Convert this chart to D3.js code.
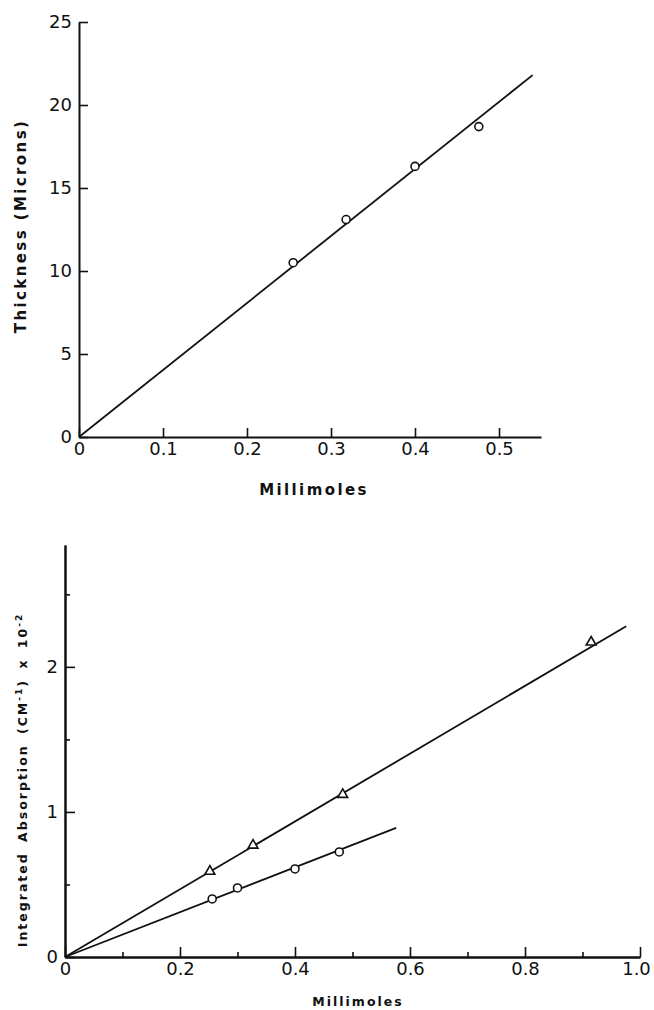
<!DOCTYPE html>
<html>
<head>
<meta charset="utf-8">
<script src="https://cdn.jsdelivr.net/npm/d3@7"></script>
<style>
    body { margin: 0; background: #fff; }
    svg { display: block; }
    .axis path, .axis line { stroke: #111; }
    .axis path { stroke-width: 2; }
    .axis line { stroke-width: 1.6; }
    .title { font-family: "DejaVu Sans", sans-serif; font-weight: bold; fill: #111; }
</style>
</head>
<body>
<div id="chart"></div>
<script>
// top panel: film thickness
const thickX = [0.255, 0.318, 0.40, 0.476]
const thickY = [10.5, 13.1, 16.3, 18.7]
const thickFitX = [0, 0.54]
const thickFitY = [0, 21.8]
const thickXTicks = [0, 0.1, 0.2, 0.3, 0.4, 0.5]
const thickYTicks = [0, 5, 10, 15, 20, 25]

// bottom panel: integrated absorption (two series)
const triX = [0.252, 0.327, 0.483, 0.915]
const triY = [0.59, 0.77, 1.12, 2.17]
const triFitX = [0, 0.976]
const triFitY = [0, 2.28]
const circX = [0.256, 0.30, 0.40, 0.477]
const circY = [0.40, 0.476, 0.607, 0.724]
const circFitX = [0, 0.576]
const circFitY = [0, 0.89]
const absXMajor = [0, 0.2, 0.4, 0.6, 0.8, 1.0]
const absXMinor = [0.1, 0.3, 0.5, 0.7, 0.9]
const absYMajor = [0, 1, 2]
const absYMinor = [0.5, 1.5, 2.5]

;(function () {
    const width = 654
    const height = 1010

    const svg = d3.select("#chart")
        .append("svg")
        .attr("width", width)
        .attr("height", height)

    const zip = (xs, ys) => xs.map((x, i) => ({ x: x, y: ys[i] }))
    const decFormat = d => d === 0 ? "0" : d3.format(".1f")(d)

    // bigger tick labels than d3's default 10px
    const styleLabels = g => g.selectAll("text")
        .style("font-family", "'DejaVu Sans', sans-serif")
        .style("font-size", "18px")
        .attr("fill", "#111")

    // ---------- top chart ----------
    const x1 = d3.scaleLinear().domain([0, 0.55]).range([79, 541])
    const y1 = d3.scaleLinear().domain([0, 25]).range([437, 22])

    const line1 = d3.line().x(d => x1(d.x)).y(d => y1(d.y))

    svg.append("g")
        .attr("class", "axis")
        .attr("transform", "translate(0," + y1(0) + ")")
        .call(d3.axisBottom(x1).tickValues(thickXTicks).tickSize(-9).tickSizeOuter(0).tickPadding(5)
            .tickFormat(decFormat))
        .call(styleLabels)

    svg.append("g")
        .attr("class", "axis")
        .attr("transform", "translate(" + x1(0) + ",0)")
        .call(d3.axisLeft(y1).tickValues(thickYTicks).tickSize(-9).tickSizeOuter(0).tickPadding(7))
        .call(styleLabels)

    svg.append("path")
        .datum(zip(thickFitX, thickFitY))
        .attr("fill", "none")
        .attr("stroke", "#111")
        .attr("stroke-width", 1.8)
        .attr("d", line1)

    svg.append("g")
        .selectAll("circle")
        .data(zip(thickX, thickY))
        .join("circle")
        .attr("cx", d => x1(d.x))
        .attr("cy", d => y1(d.y))
        .attr("r", 4)
        .attr("fill", "#fff")
        .attr("stroke", "#111")
        .attr("stroke-width", 1.6)

    svg.append("text")
        .attr("class", "title")
        .attr("x", 314)
        .attr("y", 495)
        .attr("text-anchor", "middle")
        .style("font-size", "15px")
        .style("letter-spacing", "2.4px")
        .text("Millimoles")

    svg.append("text")
        .attr("class", "title")
        .attr("transform", "translate(26,226) rotate(-90)")
        .attr("text-anchor", "middle")
        .style("font-size", "15px")
        .style("letter-spacing", "2.4px")
        .text("Thickness (Microns)")

    // ---------- bottom chart ----------
    const x2 = d3.scaleLinear().domain([0, 1]).range([65, 640])
    const y2 = d3.scaleLinear().domain([0, 2.84]).range([957, 545])

    const line2 = d3.line().x(d => x2(d.x)).y(d => y2(d.y))

    // minor ticks first, then the labelled ones
    svg.append("g")
        .attr("class", "axis")
        .attr("transform", "translate(0," + y2(0) + ")")
        .call(d3.axisBottom(x2).tickValues(absXMinor).tickSize(-5).tickSizeOuter(0).tickFormat(""))

    svg.append("g")
        .attr("class", "axis")
        .attr("transform", "translate(0," + y2(0) + ")")
        .call(d3.axisBottom(x2).tickValues(absXMajor).tickSize(-10).tickSizeOuter(0).tickPadding(5)
            .tickFormat(decFormat))
        .call(styleLabels)
        // last label sits at the page edge, nudge it in
        .call(g => g.selectAll(".tick").filter(d => d === 1).select("text").attr("dx", -4))

    svg.append("g")
        .attr("class", "axis")
        .attr("transform", "translate(" + x2(0) + ",0)")
        .call(d3.axisLeft(y2).tickValues(absYMinor).tickSize(-5).tickSizeOuter(0).tickFormat(""))

    svg.append("g")
        .attr("class", "axis")
        .attr("transform", "translate(" + x2(0) + ",0)")
        .call(d3.axisLeft(y2).tickValues(absYMajor).tickSize(-10).tickSizeOuter(0).tickPadding(7)
            .tickFormat(d3.format("d")))
        .call(styleLabels)

    svg.append("path")
        .datum(zip(triFitX, triFitY))
        .attr("fill", "none")
        .attr("stroke", "#111")
        .attr("stroke-width", 1.8)
        .attr("d", line2)

    svg.append("path")
        .datum(zip(circFitX, circFitY))
        .attr("fill", "none")
        .attr("stroke", "#111")
        .attr("stroke-width", 1.8)
        .attr("d", line2)

    svg.append("g")
        .selectAll("path")
        .data(zip(triX, triY))
        .join("path")
        .attr("transform", d => `translate(${x2(d.x)},${y2(d.y)})`)
        .attr("d", d3.symbol(d3.symbolTriangle, 42))
        .attr("fill", "#fff")
        .attr("stroke", "#111")
        .attr("stroke-width", 1.6)

    svg.append("g")
        .selectAll("circle")
        .data(zip(circX, circY))
        .join("circle")
        .attr("cx", d => x2(d.x))
        .attr("cy", d => y2(d.y))
        .attr("r", 4)
        .attr("fill", "#fff")
        .attr("stroke", "#111")
        .attr("stroke-width", 1.6)

    svg.append("text")
        .attr("class", "title")
        .attr("x", 358)
        .attr("y", 1006)
        .attr("text-anchor", "middle")
        .style("font-size", "12.5px")
        .style("letter-spacing", "2px")
        .text("Millimoles")

    const yTitle = svg.append("text")
        .attr("class", "title")
        .attr("transform", "translate(27,780) rotate(-90)")
        .attr("text-anchor", "middle")
        .style("font-size", "12.5px")
        .style("letter-spacing", "2px")
        .style("word-spacing", "4px")

    yTitle.append("tspan").text("Integrated Absorption (CM")
    yTitle.append("tspan").attr("dy", -5).attr("font-size", "9px").text("-1")
    yTitle.append("tspan").attr("dy", 5).text(") x 10")
    yTitle.append("tspan").attr("dy", -5).attr("font-size", "9px").text("-2")
})()
</script>
</body>
</html>
